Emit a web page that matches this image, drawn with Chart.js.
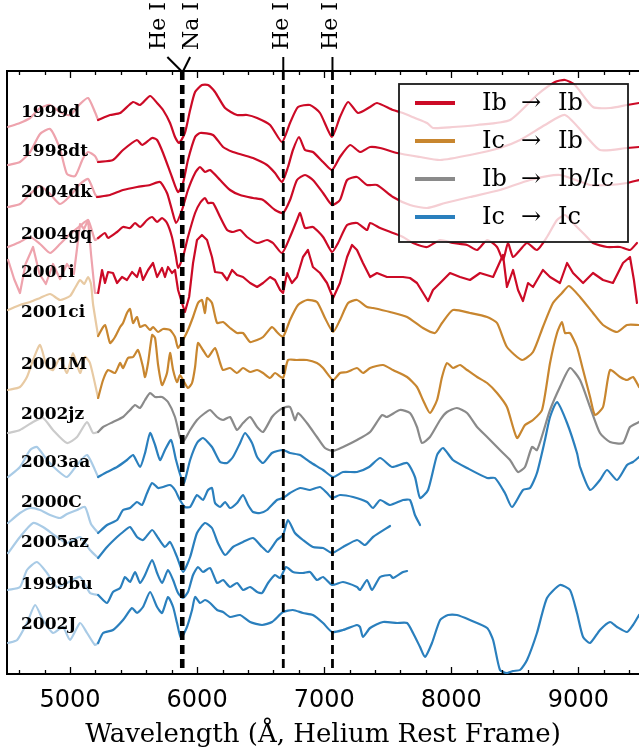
<!DOCTYPE html>
<html>
<head>
<meta charset="utf-8">
<script src="https://cdn.jsdelivr.net/npm/chart.js@4.4.1/dist/chart.umd.min.js"></script>
<style>
  html, body { margin: 0; padding: 0; background: #ffffff; }
  canvas { display: block; }
</style>
</head>
<body>
<canvas id="chart" width="639" height="751"></canvas>
<script>
// Stacked supernova spectra: [wavelength (Å, He rest frame), scaled flux + offset].
// "blue" arrays cover the faint short-wavelength end, "main" arrays the rest.

const tickValues = [5000, 6000, 7000, 8000, 9000];
const featureWaves = [5876, 5890, 6678, 7065];
const featureNames = ['He I', 'Na I', 'He I', 'He I'];

const groupFrom = ['Ib', 'Ic', 'Ib', 'Ic'];
const groupTo = ['Ib', 'Ib', 'Ib/Ic', 'Ic'];

const snNames = ['1999d', '1998dt', '2004dk', '2004gq', '2001i', '2001ci', '2001M',
                 '2002jz', '2003aa', '2000C', '2005az', '1999bu', '2002J'];
const snGroup = [0, 0, 0, 0, 0, 1, 1, 2, 3, 3, 3, 3, 3];

const blue1999d = [[4513,547],[4606,551],[4686,556],[4764,566],[4843,569],[4921,562],[5000,559],[5079,570],[5142,576],[5196,562],[5221,554]];
const main1999d = [[5221,554],[5315,559],[5394,561],[5496,572],[5551,569],[5630,578],[5685,571],[5732,564],[5787,551],[5826,537],[5858,531],[5904,541],[5945,564],[5984,582],[6038,589],[6086,589],[6141,582],[6220,566],[6314,559],[6393,559],[6472,556],[6574,549],[6668,532],[6731,551],[6794,567],[6888,569],[6967,561],[7061,537],[7124,557],[7188,572],[7266,561],[7361,567],[7415,571],[7541,564],[7620,561],[7714,556],[7809,551],[7856,546],[8013,547],[8203,549],[8463,554],[8674,579],[8816,592],[8895,594],[8973,589],[9115,567],[9249,566],[9383,569],[9477,571]];

const blue1998dt = [[4513,509],[4606,512],[4686,522],[4764,540],[4843,545],[4921,525],[4976,500],[5040,498],[5100,515],[5142,522],[5196,518],[5221,512]];
const main1998dt = [[5221,512],[5338,514],[5417,524],[5527,534],[5567,529],[5646,536],[5685,534],[5732,521],[5802,497],[5850,482],[5889,491],[5928,514],[5984,537],[6023,541],[6125,539],[6204,527],[6282,522],[6361,519],[6440,516],[6550,509],[6613,501],[6668,492],[6715,507],[6754,524],[6802,537],[6849,524],[6911,522],[6991,512],[7061,504],[7124,517],[7204,529],[7282,522],[7361,527],[7440,526],[7573,521],[7754,517],[7912,514],[8147,519],[8383,526],[8541,534],[8737,549],[8895,559],[9052,539],[9170,524],[9383,526],[9477,527]];

const blue2004dk = [[4513,467],[4606,470],[4686,480],[4764,488],[4843,480],[4921,470],[5000,478],[5079,490],[5142,495],[5196,480],[5213,477]];
const main2004dk = [[5213,477],[5315,479],[5417,484],[5527,487],[5630,489],[5708,492],[5763,481],[5802,464],[5834,451],[5881,464],[5928,484],[5984,501],[6023,507],[6062,502],[6102,504],[6181,494],[6259,484],[6338,479],[6440,476],[6519,474],[6613,464],[6676,461],[6731,474],[6786,494],[6849,499],[6911,494],[6991,481],[7061,469],[7124,474],[7180,494],[7258,497],[7337,489],[7415,489],[7541,477],[7675,469],[7809,466],[7951,471],[8147,477],[8383,484],[8620,494],[8855,499],[9092,489],[9249,489],[9383,491],[9477,494]];

const blue2004gq = [[4513,427],[4606,432],[4686,437],[4764,430],[4843,421],[4921,430],[5000,440],[5079,448],[5142,454],[5196,434],[5221,436]];
const main2004gq = [[5221,436],[5275,441],[5299,436],[5370,442],[5417,447],[5472,446],[5512,451],[5551,447],[5606,454],[5646,457],[5685,452],[5724,456],[5763,451],[5802,437],[5834,417],[5850,406],[5889,417],[5928,437],[5984,461],[6023,471],[6062,476],[6086,471],[6125,471],[6181,457],[6236,444],[6282,442],[6338,444],[6393,437],[6472,431],[6550,434],[6597,431],[6668,421],[6731,437],[6786,454],[6810,461],[6849,446],[6911,447],[6991,437],[7061,422],[7109,431],[7180,449],[7258,451],[7337,444],[7361,451],[7440,446],[7541,441],[7620,437],[7699,431],[7809,427],[7912,434],[8013,431],[8124,429],[8203,424],[8282,434],[8360,427],[8407,414],[8446,431],[8486,417],[8541,424],[8596,431],[8674,424],[8753,437],[8832,454],[8895,459],[8973,449],[9052,439],[9115,431],[9225,427],[9328,427],[9406,424],[9461,431]];

const blue2001i = [[4513,414],[4560,395],[4606,381],[4650,410],[4709,427],[4760,400],[4810,390],[4866,410],[4921,395],[4976,410],[5030,400],[5079,450],[5110,445],[5142,454],[5165,420],[5196,381],[5221,381]];
const main2001i = [[5221,381],[5252,404],[5275,391],[5299,402],[5338,401],[5370,391],[5409,397],[5448,394],[5488,402],[5527,397],[5551,406],[5574,394],[5614,404],[5653,411],[5685,397],[5724,406],[5747,397],[5771,407],[5802,401],[5826,404],[5850,384],[5881,371],[5904,362],[5937,377],[5968,411],[5999,434],[6038,439],[6078,434],[6117,417],[6141,402],[6196,401],[6236,394],[6275,404],[6314,399],[6361,397],[6417,391],[6472,387],[6519,391],[6574,397],[6613,394],[6653,384],[6676,381],[6707,401],[6746,391],[6786,397],[6833,417],[6872,424],[6911,407],[6967,401],[7022,391],[7070,376],[7124,391],[7180,417],[7219,429],[7258,424],[7305,411],[7361,397],[7415,401],[7494,397],[7620,397],[7675,396],[7730,391],[7817,373],[7856,384],[7912,391],[7990,401],[8069,397],[8147,394],[8226,401],[8329,397],[8407,419],[8438,387],[8486,404],[8525,384],[8564,373],[8604,391],[8643,387],[8721,404],[8777,397],[8855,391],[8911,411],[8958,401],[9037,391],[9115,401],[9194,394],[9272,391],[9351,411],[9406,417],[9437,394],[9461,371]];

const blue2001ci = [[4513,364],[4606,369],[4686,372],[4764,376],[4843,380],[4921,374],[5000,378],[5039,386],[5079,394],[5111,390],[5142,397],[5165,390],[5181,370],[5221,338]];
const main2001ci = [[5221,338],[5275,349],[5315,331],[5354,337],[5394,347],[5417,351],[5448,361],[5472,365],[5496,351],[5527,357],[5551,347],[5590,349],[5630,344],[5653,347],[5693,342],[5732,345],[5787,344],[5826,337],[5850,326],[5889,334],[5928,344],[5968,357],[6007,371],[6038,374],[6062,361],[6078,376],[6117,371],[6157,351],[6204,352],[6259,346],[6314,341],[6361,341],[6417,332],[6472,334],[6519,337],[6589,347],[6628,342],[6676,337],[6731,354],[6794,369],[6864,374],[6943,372],[7006,356],[7070,342],[7124,354],[7188,371],[7258,374],[7337,367],[7384,366],[7518,362],[7652,357],[7777,346],[7872,341],[7927,351],[8013,364],[8147,361],[8282,357],[8360,351],[8438,327],[8557,314],[8643,322],[8721,347],[8800,371],[8871,381],[8926,388],[9013,377],[9115,361],[9194,349],[9304,342],[9383,349],[9477,349]];

const blue2001M = [[4513,284],[4606,287],[4661,297],[4709,314],[4764,329],[4819,307],[4866,304],[4921,316],[4976,301],[5023,321],[5079,301],[5118,317],[5157,311],[5221,276]];
const main2001M = [[5221,276],[5260,294],[5299,304],[5354,301],[5394,311],[5417,306],[5456,316],[5496,317],[5535,324],[5574,307],[5590,297],[5614,311],[5646,339],[5669,336],[5693,309],[5724,289],[5763,301],[5787,321],[5811,304],[5842,292],[5865,299],[5889,294],[5928,286],[5960,291],[5984,307],[6007,331],[6046,324],[6086,317],[6141,326],[6181,311],[6204,304],[6259,306],[6314,301],[6361,306],[6417,302],[6472,304],[6519,301],[6574,296],[6613,301],[6676,296],[6715,314],[6786,314],[6864,314],[6943,311],[6991,306],[7070,294],[7124,301],[7180,302],[7258,306],[7305,301],[7361,306],[7463,309],[7541,304],[7652,297],[7730,287],[7777,274],[7832,261],[7888,274],[7927,297],[7966,311],[8013,306],[8069,309],[8124,304],[8203,297],[8282,291],[8360,281],[8438,267],[8517,236],[8580,249],[8643,254],[8714,264],[8777,311],[8832,341],[8871,352],[8895,341],[8934,341],[8989,327],[9037,304],[9092,277],[9131,259],[9194,267],[9249,304],[9328,297],[9383,294],[9430,297],[9477,287]];

const blue2002jz = [[4513,241],[4606,244],[4709,252],[4787,256],[4866,244],[4976,231],[5055,237],[5134,252],[5181,241],[5221,242]];
const main2002jz = [[5221,242],[5260,247],[5338,252],[5417,257],[5472,264],[5512,269],[5551,266],[5590,274],[5630,281],[5669,277],[5724,277],[5771,272],[5826,257],[5865,237],[5889,232],[5945,244],[5999,254],[6062,261],[6102,264],[6157,257],[6204,254],[6259,257],[6314,244],[6361,251],[6417,257],[6472,247],[6519,242],[6589,257],[6628,262],[6676,266],[6731,267],[6770,254],[6794,261],[6864,251],[6943,237],[7006,226],[7070,223],[7148,227],[7258,234],[7361,242],[7455,259],[7494,257],[7596,264],[7675,261],[7730,247],[7769,231],[7832,237],[7912,254],[7966,262],[8044,266],[8124,261],[8203,247],[8282,237],[8383,224],[8462,214],[8525,202],[8580,207],[8635,227],[8674,224],[8721,241],[8777,264],[8855,287],[8934,306],[9013,294],[9092,267],[9170,241],[9249,232],[9351,231],[9406,247],[9477,252]];

const blue2003aa = [[4513,197],[4606,207],[4686,224],[4740,227],[4819,214],[4897,204],[4976,197],[5055,209],[5134,219],[5221,197]];
const main2003aa = [[5221,197],[5291,202],[5370,207],[5448,214],[5496,219],[5551,207],[5590,221],[5630,241],[5669,229],[5708,214],[5747,224],[5795,234],[5834,214],[5873,197],[5897,191],[5945,214],[5999,231],[6046,236],[6117,227],[6181,212],[6236,211],[6282,217],[6338,231],[6377,241],[6432,231],[6472,217],[6519,211],[6589,221],[6676,224],[6731,221],[6810,219],[6888,212],[6991,204],[7070,197],[7148,202],[7258,202],[7353,207],[7440,216],[7534,207],[7652,211],[7714,197],[7754,176],[7817,184],[7888,219],[7935,226],[8013,214],[8124,206],[8282,196],[8344,196],[8422,181],[8478,167],[8564,184],[8620,186],[8674,201],[8737,234],[8777,257],[8832,272],[8911,251],[8989,221],[9013,207],[9092,184],[9170,194],[9225,204],[9304,194],[9383,209],[9430,212],[9477,217]];

const blue2000C = [[4513,151],[4606,161],[4686,166],[4764,164],[4843,159],[4921,156],[4976,160],[5055,164],[5118,167],[5165,150],[5221,141]];
const main2000C = [[5221,141],[5291,149],[5370,154],[5417,164],[5472,166],[5527,172],[5567,169],[5606,181],[5646,191],[5693,186],[5732,187],[5787,189],[5826,184],[5865,174],[5904,167],[5945,167],[5999,179],[6046,174],[6086,184],[6117,186],[6141,171],[6181,167],[6220,172],[6259,166],[6314,171],[6361,179],[6401,169],[6440,162],[6495,161],[6550,164],[6628,174],[6676,176],[6731,181],[6810,186],[6888,184],[6967,187],[7022,181],[7061,176],[7124,179],[7227,177],[7337,172],[7384,166],[7440,174],[7518,169],[7620,174],[7675,174],[7714,159],[7754,149]];

const blue2005az = [[4513,121],[4606,137],[4709,151],[4787,147],[4897,137],[4976,131],[5079,137],[5157,124],[5221,116]];
const main2005az = [[5221,116],[5291,127],[5370,137],[5417,142],[5472,147],[5527,137],[5574,134],[5646,144],[5693,136],[5747,127],[5787,132],[5842,117],[5889,102],[5945,117],[5999,141],[6062,151],[6117,146],[6164,131],[6220,119],[6282,127],[6361,132],[6440,136],[6511,127],[6558,122],[6628,134],[6676,139],[6715,154],[6770,141],[6833,134],[6911,127],[6991,126],[7061,121],[7148,127],[7258,134],[7321,129],[7384,137],[7518,148]];

const blue1999bu = [[4513,84],[4606,87],[4661,104],[4740,112],[4819,101],[4897,87],[4976,91],[5079,97],[5157,81],[5221,79]];
const main1999bu = [[5221,79],[5291,71],[5338,82],[5394,86],[5433,97],[5472,92],[5512,102],[5551,91],[5590,99],[5646,114],[5685,101],[5724,91],[5771,104],[5811,94],[5850,81],[5889,76],[5928,82],[5968,99],[6007,107],[6046,102],[6102,106],[6157,91],[6204,94],[6259,87],[6314,91],[6361,84],[6417,87],[6472,82],[6511,81],[6558,91],[6613,99],[6653,96],[6700,107],[6754,102],[6833,101],[6888,102],[6943,94],[6991,97],[7061,89],[7148,92],[7258,87],[7282,84],[7337,94],[7376,84],[7440,97],[7518,99],[7541,96],[7620,102],[7652,103]];

const blue2002J = [[4513,31],[4584,34],[4661,51],[4725,69],[4787,54],[4866,41],[4944,47],[5000,34],[5079,51],[5134,41],[5196,29],[5221,31]];
const main2002J = [[5221,31],[5260,41],[5338,44],[5417,54],[5488,66],[5527,61],[5574,67],[5630,82],[5685,67],[5724,61],[5771,77],[5811,67],[5842,51],[5873,36],[5920,47],[5960,64],[5984,77],[6023,71],[6062,74],[6102,71],[6157,64],[6204,62],[6259,57],[6338,59],[6417,52],[6511,49],[6589,52],[6676,62],[6754,64],[6833,61],[6911,59],[6991,51],[7061,42],[7148,44],[7258,49],[7282,47],[7305,37],[7361,46],[7463,52],[7573,51],[7652,51],[7699,41],[7754,27],[7793,17],[7848,31],[7912,54],[7974,59],[8044,59],[8147,54],[8282,46],[8329,34],[8383,4],[8438,1],[8486,3],[8541,4],[8596,14],[8674,41],[8753,76],[8855,89],[8934,84],[8989,61],[9037,37],[9092,31],[9170,44],[9249,52],[9304,47],[9383,42],[9430,49],[9477,59]];

const blueParts = [blue1999d, blue1998dt, blue2004dk, blue2004gq, blue2001i, blue2001ci, blue2001M,
                   blue2002jz, blue2003aa, blue2000C, blue2005az, blue1999bu, blue2002J];
const mainParts = [main1999d, main1998dt, main2004dk, main2004gq, main2001i, main2001ci, main2001M,
                   main2002jz, main2003aa, main2000C, main2005az, main1999bu, main2002J];

// ---- styling ----
const groupColors = ['#cc0a26', '#c8862f', '#8a8a8a', '#2a7fbd'];
const groupFaint = ['#eea3ad', '#e8caa3', '#cbcbcb', '#a9cbe6'];
// flux level (same units as the y axis) at which each name sits
const nameLevels = [561, 522, 481, 439, 401, 361, 309, 259, 211, 171, 131, 89, 49];

const toXY = arr => arr.map(p => ({ x: p[0], y: p[1] }));
const datasets = [];
snNames.forEach((name, i) => {
  const g = snGroup[i];
  const smooth = name === '2001i' ? 0 : 0.2;
  datasets.push({
    label: name, data: toXY(mainParts[i]), borderColor: groupColors[g],
    borderWidth: 2.2, pointRadius: 0, tension: smooth, fill: false,
    borderJoinStyle: 'round', borderCapStyle: 'round'
  });
  datasets.push({
    label: name + ' blue', data: toXY(blueParts[i]), borderColor: groupFaint[g],
    borderWidth: 2.2, pointRadius: 0, tension: smooth, fill: false,
    borderJoinStyle: 'round', borderCapStyle: 'round'
  });
});

const decor = {
  id: 'decor',
  afterDatasetsDraw(chart) {
    const { ctx, chartArea: a, scales: { x, y } } = chart;
    ctx.save();
    // top frame line
    ctx.strokeStyle = '#000';
    ctx.lineWidth = 2;
    ctx.beginPath();
    ctx.moveTo(a.left - 1, a.top);
    ctx.lineTo(a.right, a.top);
    ctx.stroke();
    // inward tick marks, minor every 200 Å
    ctx.lineWidth = 1.3;
    for (let w = 4600; w <= 9400; w += 200) {
      const px = Math.round(x.getPixelForValue(w)) + 0.5;
      const len = (w % 1000 === 0) ? 7 : 4;
      ctx.beginPath();
      ctx.moveTo(px, a.bottom);
      ctx.lineTo(px, a.bottom - len);
      ctx.moveTo(px, a.top);
      ctx.lineTo(px, a.top + len);
      ctx.stroke();
    }
    // dashed line features
    ctx.setLineDash([9, 5]);
    ctx.lineWidth = 2.8;
    featureWaves.forEach(w => {
      const px = x.getPixelForValue(w);
      ctx.beginPath();
      ctx.moveTo(px, a.top);
      ctx.lineTo(px, a.bottom);
      ctx.stroke();
    });
    ctx.setLineDash([]);
    // feature names above the frame, with leader lines
    const shift = [-22, 9, -1, -1];
    ctx.lineWidth = 2;
    ctx.font = '22px "DejaVu Serif"';
    ctx.fillStyle = '#000';
    ctx.textBaseline = 'middle';
    ctx.textAlign = 'left';
    featureWaves.forEach((w, i) => {
      const px = x.getPixelForValue(w);
      const tx = px + shift[i];
      ctx.beginPath();
      ctx.moveTo(px, a.top);
      ctx.lineTo(px + (shift[i] < -5 ? -14 : shift[i] > 5 ? 7 : 0), a.top - 14);
      ctx.stroke();
      ctx.save();
      ctx.translate(tx, a.top - 21);
      ctx.rotate(-Math.PI / 2);
      ctx.fillText(featureNames[i], 0, 0);
      ctx.restore();
    });
    // supernova names
    ctx.font = 'bold 17px "DejaVu Serif"';
    ctx.textBaseline = 'middle';
    snNames.forEach((n, i) => {
      ctx.fillText(n, a.left + 14, y.getPixelForValue(nameLevels[i]));
    });
    ctx.restore();
  },
  afterDraw(chart) {
    const { ctx, chartArea: a } = chart;
    const bx = a.right - 240, by = a.top + 13, bw = 229, bh = 158;
    ctx.save();
    ctx.fillStyle = 'rgba(255,255,255,0.8)';
    ctx.fillRect(bx, by, bw, bh);
    ctx.strokeStyle = '#1a1a1a';
    ctx.lineWidth = 1.8;
    ctx.strokeRect(bx, by, bw, bh);
    ctx.font = '24px "DejaVu Serif"';
    ctx.fillStyle = '#000';
    ctx.textBaseline = 'middle';
    groupFrom.forEach((g, i) => {
      const ry = by + 19 + i * 38;
      ctx.strokeStyle = groupColors[i];
      ctx.lineWidth = 4;
      ctx.beginPath();
      ctx.moveTo(bx + 16, ry);
      ctx.lineTo(bx + 56, ry);
      ctx.stroke();
      ctx.textAlign = 'left';
      ctx.fillText(g, bx + 83, ry + 1);
      ctx.textAlign = 'center';
      ctx.fillText('\u2192', bx + 132, ry + 1);
      ctx.textAlign = 'left';
      ctx.fillText(groupTo[i], bx + 159, ry + 1);
    });
    ctx.restore();
  }
};

new Chart(document.getElementById('chart'), {
  type: 'line',
  data: { datasets },
  options: {
    responsive: false,
    animation: false,
    devicePixelRatio: 1,
    layout: { padding: { top: 71, right: 0, left: 0, bottom: 0 } },
    plugins: { legend: { display: false }, tooltip: { enabled: false } },
    scales: {
      x: {
        type: 'linear', position: 'bottom', min: 4504, max: 9477,
        grid: { display: false },
        border: { display: true, color: '#000', width: 2 },
        afterBuildTicks: s => { s.ticks = tickValues.map(v => ({ value: v })); },
        ticks: {
          color: '#000', padding: 4, maxRotation: 0, autoSkip: false,
          font: { family: 'DejaVu Sans', size: 24 },
          callback: v => String(v)
        },
        title: {
          display: true, text: 'Wavelength (Å, Helium Rest Frame)', color: '#000',
          font: { family: 'DejaVu Serif', size: 26 }, padding: { top: 0, bottom: 0 }
        },
        afterFit: s => { s.height = 77; }
      },
      y: {
        min: 0, max: 603,
        grid: { display: false },
        border: { display: true, color: '#000', width: 2 },
        ticks: { display: false },
        afterFit: s => { s.width = 7; }
      }
    }
  },
  plugins: [decor]
});
</script>
</body>
</html>
